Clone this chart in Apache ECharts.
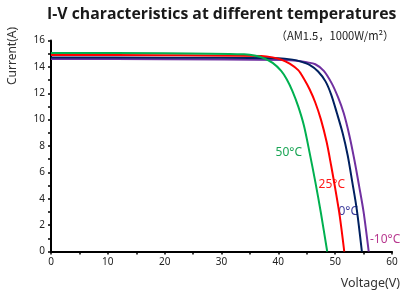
<!DOCTYPE html>
<html>
<head>
<meta charset="utf-8">
<script src="https://cdn.jsdelivr.net/npm/echarts@6/dist/echarts.min.js"></script>
<style>
  html, body { margin: 0; padding: 0; background: #fff; }
  #chart { width: 405px; height: 293px; }
</style>
</head>
<body>
<div id="chart"></div>
<script>
// I-V 曲线数据
const v50 = [0, 20, 34, 36, 37.5, 39, 40.5, 41.5, 42.5, 43.5, 44.5, 45.5, 46.5, 47.5, 48.6];
const i50 = [15.05, 15.03, 14.95, 14.85, 14.65, 14.3, 13.7, 13.05, 12.15, 11.0, 9.55, 7.5, 5.3, 2.9, 0];

const v25 = [0, 20, 37, 39, 40.5, 42, 43.5, 44.5, 45.5, 46.5, 47.5, 48.5, 49.3, 50.0, 50.8, 51.6];
const i25 = [14.9, 14.88, 14.82, 14.72, 14.55, 14.25, 13.75, 13.1, 12.3, 11.3, 10.0, 8.3, 6.5, 4.8, 2.7, 0];

const v0 = [0, 20, 40, 42.5, 44, 45.5, 47, 48.3, 49.3, 50.3, 51.3, 52.2, 53, 53.8, 54.7];
const i0 = [14.72, 14.7, 14.65, 14.55, 14.4, 14.15, 13.65, 12.9, 11.9, 10.5, 9.0, 7.3, 5.3, 3.2, 0];

const vm10 = [0, 20, 41, 43.5, 45, 46.5, 48, 49.4, 50.5, 51.5, 52.5, 53.4, 54.2, 55, 55.9];
const im10 = [14.6, 14.58, 14.53, 14.45, 14.35, 14.2, 13.7, 12.75, 11.7, 10.5, 8.8, 6.9, 5.0, 3.0, 0];

const seriesNames = ['50°C', '25°C', '0°C', '-10°C'];
const lineColors = ['#00b050', '#ff0000', '#002060', '#7030a0'];

const pairs = (xs, ys) => xs.map((x, k) => [x, ys[k]]);

const chart = echarts.init(document.getElementById('chart'));

const axisStyle = {
    axisLine: { lineStyle: { color: '#000', width: 2 } },
    axisTick: { show: true, length: 3, lineStyle: { color: '#000', width: 1.5 } },
    minorTick: { show: true, splitNumber: 2, length: 3, lineStyle: { color: '#000', width: 1.5 } },
    splitLine: { show: false },
    axisLabel: { color: '#222', fontSize: 10, fontFamily: 'Noto Sans', margin: 6 }
};

const labelFont = 'Noto Sans';

chart.setOption({
    animation: false,
    title: {
        text: 'I-V characteristics at different temperatures',
        left: 42,
        top: 1,
        textStyle: { fontSize: 15.8, fontWeight: 'bold', color: '#1a1a1a', fontFamily: 'Open Sans' }
    },
    grid: { left: 51, right: 13, top: 40.5, bottom: 41.5 },
    xAxis: Object.assign({ type: 'value', min: 0, max: 60, interval: 10 }, axisStyle),
    yAxis: Object.assign({ type: 'value', min: 0, max: 16, interval: 2 }, axisStyle),
    series: [
        [v50, i50], [v25, i25], [v0, i0], [vm10, im10]
    ].map((d, k) => ({
        name: seriesNames[k],
        type: 'line',
        data: pairs(d[0], d[1]),
        smooth: 0.3,
        showSymbol: false,
        lineStyle: { color: lineColors[k], width: 2 },
        z: 10 - k
    })),
    graphic: [
        { type: 'text', x: 335, y: 36, style: { text: '（AM1.5，1000W/m²）', fontSize: 11.2, fill: '#222', fontFamily: 'Noto Sans CJK SC', textAlign: 'center', textVerticalAlign: 'middle' } },
        { type: 'text', x: 13, y: 56, rotation: Math.PI / 2, style: { text: 'Current(A)', fontSize: 12, fill: '#333', fontFamily: labelFont, textAlign: 'center', textVerticalAlign: 'middle' } },
        { type: 'text', x: 400, y: 283, style: { text: 'Voltage(V)', fontSize: 12.5, fill: '#333', fontFamily: labelFont, textAlign: 'right', textVerticalAlign: 'middle' } },
        { type: 'text', x: 302, y: 153, style: { text: '50°C', fontSize: 12, fill: '#1aa555', fontFamily: labelFont, textAlign: 'right', textVerticalAlign: 'middle' } },
        { type: 'text', x: 345, y: 185, style: { text: '25°C', fontSize: 12, fill: '#ff1a1a', fontFamily: labelFont, textAlign: 'right', textVerticalAlign: 'middle' } },
        { type: 'text', x: 358, y: 212, style: { text: '0°C', fontSize: 12, fill: '#3c3c9c', fontFamily: labelFont, textAlign: 'right', textVerticalAlign: 'middle' } },
        { type: 'text', x: 370, y: 240, style: { text: '-10°C', fontSize: 12, fill: '#b8388f', fontFamily: labelFont, textAlign: 'left', textVerticalAlign: 'middle' } }
    ]
});
</script>
</body>
</html>
